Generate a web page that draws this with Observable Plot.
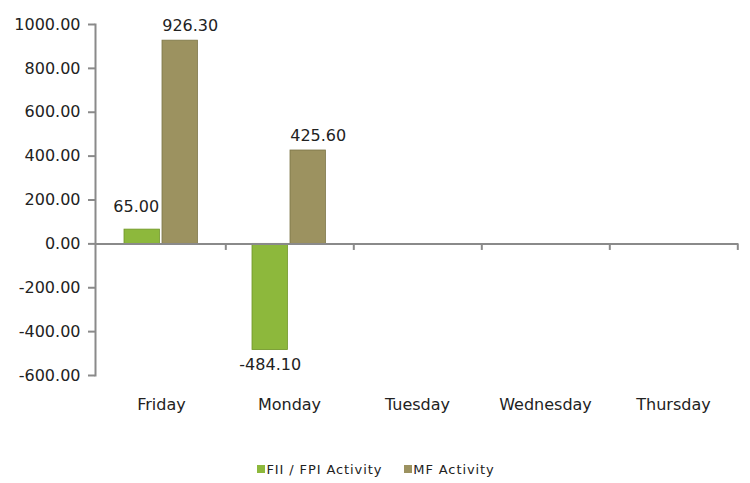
<!DOCTYPE html>
<html>
<head>
<meta charset="utf-8">
<script src="https://cdn.jsdelivr.net/npm/d3@7"></script>
<script src="https://cdn.jsdelivr.net/npm/@observablehq/plot@0.6"></script>
<style>
  html, body { margin: 0; padding: 0; background: #fff; }
  #chart { width: 750px; position: relative; font-family: "DejaVu Sans", Verdana, sans-serif; }
  .legend { width: 750px; height: 38px; display: flex; justify-content: center; align-items: center; gap: 22px; font-size: 13px; letter-spacing: 0.9px; color: #222; padding-left: 2px; box-sizing: border-box; }
  .legend span.item { display: inline-flex; align-items: center; }
  .legend i { display: inline-block; width: 8px; height: 8px; margin-right: 1px; }
</style>
</head>
<body>
<div id="chart"></div>
<script>
const days = ["Friday", "Monday", "Tuesday", "Wednesday", "Thursday"];
const seriesNames = ["FII / FPI Activity", "MF Activity"];
const fiiValues = [65.00, -484.10, null, null, null];
const mfValues = [926.30, 425.60, null, null, null];
const yTicks = [-600, -400, -200, 0, 200, 400, 600, 800, 1000];
const colors = ["#8db83c", "#9c9260"];

const W = 750, H = 450;
const mL = 95, mR = 12, mT = 24, mB = 75;
const band = (W - mL - mR) / days.length;
const barW = 36;
const gInL = 27, tInL = 65;

const fii = days.map((d, i) => ({day: d, value: fiiValues[i]})).filter(d => d.value != null);
const mf = days.map((d, i) => ({day: d, value: mfValues[i]})).filter(d => d.value != null);

const grey = "#8a8a8a";
const fmt = d => d.toFixed(2);
const gdx = gInL + barW / 2 - band / 2;
const tdx = tInL + barW / 2 - band / 2;

const plot = Plot.plot({
  width: W, height: H,
  marginLeft: mL, marginRight: mR, marginTop: mT, marginBottom: mB,
  style: {fontFamily: "'DejaVu Sans', Verdana, sans-serif", fontSize: "16px", color: "#222", background: "#fff", overflow: "visible"},
  x: {domain: days, padding: 0},
  y: {domain: [-600, 1000]},
  marks: [
    Plot.barY(fii, {x: "day", y: "value", fill: colors[0], stroke: "#6f9526", strokeWidth: 0.8, insetLeft: gInL, insetRight: band - gInL - barW}),
    Plot.barY(mf, {x: "day", y: "value", fill: colors[1], stroke: "#7c7546", strokeWidth: 0.8, insetLeft: tInL, insetRight: band - tInL - barW}),
    Plot.axisY({ticks: yTicks, tickFormat: fmt, tickSize: 7, tickPadding: 8, stroke: grey, strokeWidth: 2, fontSize: 16, fill: "#222", label: null}),
    Plot.frame({anchor: "left", stroke: grey, strokeWidth: 2}),
    Plot.ruleY([0], {stroke: grey, strokeWidth: 2}),
    Plot.ruleX(days, {x: d => d, y1: 0, y2: -30, dx: band / 2, stroke: grey, strokeWidth: 2}),
    Plot.axisX({tickSize: 0, tickPadding: 23, fontSize: 16, fill: "#222", label: null}),
    Plot.text(fii, {filter: d => d.value >= 0, x: "day", y: "value", dx: gdx - 6, dy: -18, lineAnchor: "bottom", text: d => fmt(d.value), fontSize: 16, fill: "#222"}),
    Plot.text(fii, {filter: d => d.value < 0, x: "day", y: "value", dx: gdx, dy: 9, lineAnchor: "top", text: d => fmt(d.value), fontSize: 16, fill: "#222"}),
    Plot.text(mf, {filter: d => d.value >= 0, x: "day", y: "value", dx: tdx + 10, dy: -10, lineAnchor: "bottom", text: d => fmt(d.value), fontSize: 16, fill: "#222"}),
    Plot.text(mf, {filter: d => d.value < 0, x: "day", y: "value", dx: tdx, dy: 9, lineAnchor: "top", text: d => fmt(d.value), fontSize: 16, fill: "#222"})
  ]
});
const chart = document.getElementById("chart");
chart.appendChild(plot);
const legend = document.createElement("div");
legend.className = "legend";
seriesNames.forEach((name, i) => {
  const item = document.createElement("span");
  item.className = "item";
  item.innerHTML = `<i style="background:${colors[i]}"></i>${name}`;
  legend.appendChild(item);
});
chart.appendChild(legend);
</script>
</body>
</html>
